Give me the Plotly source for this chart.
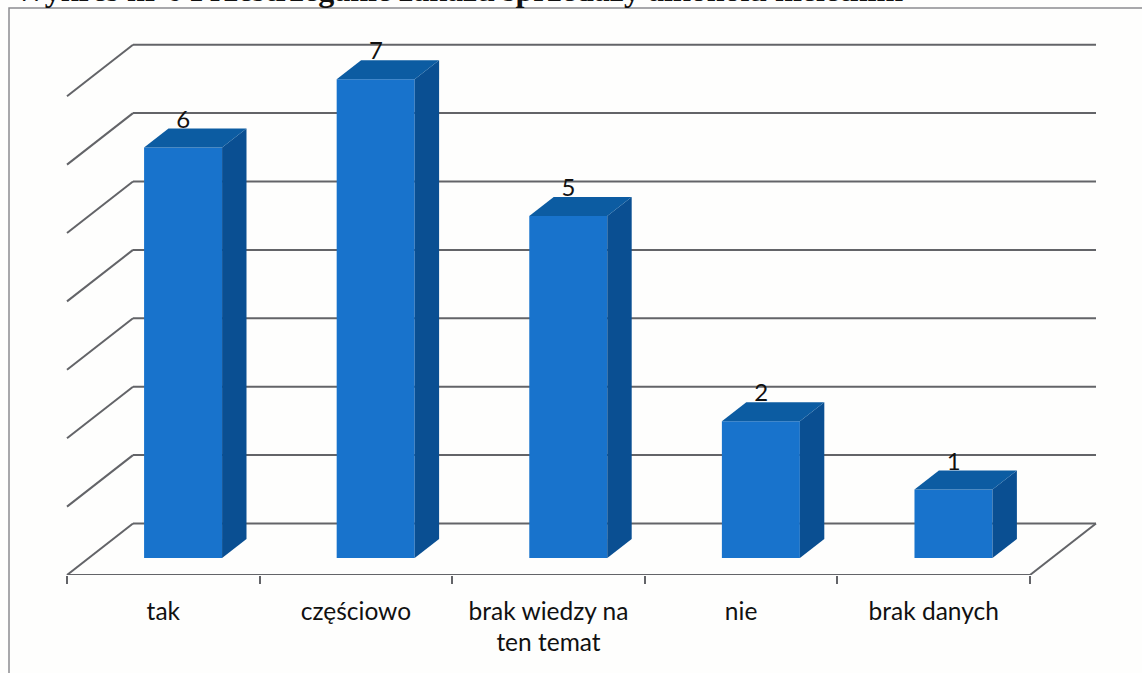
import plotly.graph_objects as go

categories = ["tak", "częściowo", "brak wiedzy na<br>ten temat", "nie", "brak danych"]
values = [6, 7, 5, 2, 1]
levels = [0, 1, 2, 3, 4, 5, 6, 7]
title_text = "Wykres nr 6 Przestrzeganie zakazu sprzedaży alkoholu nieletnim"

W, H = 1142, 673
AX_L, AX_B, CAT_PX, UNIT_PX = 67, 575, 192.6, 68.4
FLOOR_DX = 66 / CAT_PX      # depth of the floor in category units
FLOOR_DY = 51.5 / UNIT_PX   # depth of the floor in value units
D0, D1 = 0.33, 0.70         # bar front/back depth fraction
BAR_W = 78 / CAT_PX
BAR_SHIFT = -2 / CAT_PX

FRONT, SIDE, TOP = "#1873cc", "#0a4f92", "#0c5ca2"
GRID = "#636468"
FONT = "Lato, Carlito, sans-serif"

xr = [-AX_L / CAT_PX, (W - AX_L) / CAT_PX]
yr = [0, AX_B / UNIT_PX]
centers = [i + 0.5 for i in range(len(categories))]
n = len(categories)

shapes = []
for v in levels:
    bx, by = FLOOR_DX, v + FLOOR_DY
    shapes.append(dict(type="line", x0=0, y0=v, x1=bx, y1=by, xref="x", yref="y",
                       layer="below", line=dict(color=GRID, width=2)))
    shapes.append(dict(type="line", x0=bx, y0=by, x1=n + bx, y1=by, xref="x", yref="y",
                       layer="below", line=dict(color=GRID, width=2)))
shapes.append(dict(type="line", x0=n, y0=0, x1=n + FLOOR_DX, y1=FLOOR_DY, xref="x", yref="y",
                   layer="below", line=dict(color=GRID, width=2)))
# scanned page frame
shapes.append(dict(type="rect", xref="paper", yref="paper", layer="below",
                   x0=9 / W, x1=1.01, y0=-(H - AX_B + 10) / AX_B, y1=(AX_B - 8) / AX_B,
                   line=dict(color="#8c8c90", width=1.5)))

fig = go.Figure()

fig.add_trace(go.Bar(
    x=[c + D0 * FLOOR_DX + BAR_SHIFT for c in centers],
    y=values,
    base=D0 * FLOOR_DY,
    width=BAR_W,
    marker=dict(color=FRONT, line=dict(width=0)),
    showlegend=False, hoverinfo="skip",
))

for c, v in zip(centers, values):
    lf = c + D0 * FLOOR_DX + BAR_SHIFT - BAR_W / 2
    rf = lf + BAR_W
    off_x = (D1 - D0) * FLOOR_DX
    b0 = D0 * FLOOR_DY
    off_y = (D1 - D0) * FLOOR_DY
    t0 = b0 + v
    fig.add_trace(go.Scatter(
        x=[rf, rf + off_x, rf + off_x, rf, rf],
        y=[b0, b0 + off_y, t0 + off_y, t0, b0],
        mode="lines", fill="toself", fillcolor=SIDE, line=dict(width=0),
        showlegend=False, hoverinfo="skip"))
    fig.add_trace(go.Scatter(
        x=[lf, rf, rf + off_x, lf + off_x, lf],
        y=[t0, t0, t0 + off_y, t0 + off_y, t0],
        mode="lines", fill="toself", fillcolor=TOP, line=dict(width=0),
        showlegend=False, hoverinfo="skip"))

# front edge of the floor
fig.add_trace(go.Scatter(x=[0, n], y=[0, 0], mode="lines", cliponaxis=False,
                         line=dict(color=GRID, width=2), showlegend=False, hoverinfo="skip"))

# value labels, just above the back edge of each bar's top
fig.add_trace(go.Scatter(
    x=[c + (D0 + D1) / 2 * FLOOR_DX - 14 / CAT_PX for c in centers],
    y=[v + D1 * FLOOR_DY + 7 / UNIT_PX for v in values],
    text=[str(v) for v in values], mode="text", textposition="middle center",
    textfont=dict(family=FONT, size=24, color="#111111"),
    cliponaxis=False, showlegend=False, hoverinfo="skip"))

fig.update_layout(
    width=W, height=H, margin=dict(l=0, r=0, t=0, b=H - AX_B),
    paper_bgcolor="#fefefd", plot_bgcolor="rgba(0,0,0,0)",
    shapes=shapes, showlegend=False,
    xaxis=dict(range=xr, showgrid=False, zeroline=False, showline=False,
               tickmode="array", tickvals=centers, ticktext=categories, ticks="",
               ticklabelstandoff=19, tickfont=dict(family=FONT, size=24.5, color="#111111"),
               minor=dict(tickmode="array", tickvals=list(range(n + 1)), ticks="outside",
                          ticklen=8, tickwidth=2, tickcolor=GRID, showgrid=False)),
    yaxis=dict(range=yr, visible=False),
    annotations=[dict(text="<b>" + title_text + "</b>", xref="paper", yref="paper",
                      x=12 / W, y=1, xanchor="left", yanchor="middle", showarrow=False, yshift=10,
                      font=dict(family="Liberation Serif", size=32, color="#111111"))],
)

fig.write_html("out.html", config={"displayModeBar": False},
               post_script="document.body.style.margin='0';document.body.style.overflow='hidden';")
